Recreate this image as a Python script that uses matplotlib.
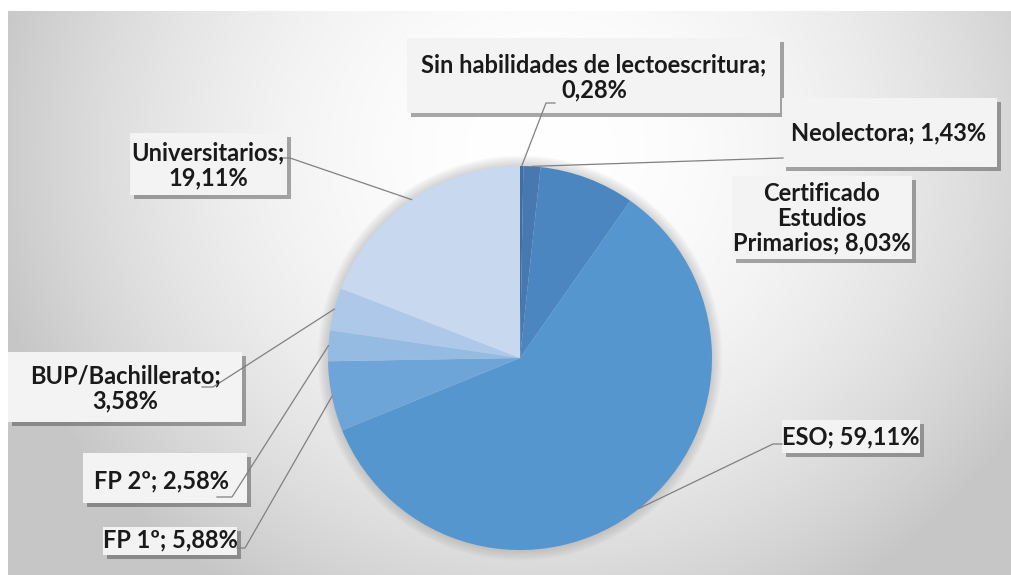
"""
Pie chart: nivel de estudios (recreated from an Excel-style figure).
"""

import numpy as np
import matplotlib
matplotlib.use("Agg")
import matplotlib.pyplot as plt  # noqa: E402
import matplotlib.patheffects as pe  # noqa: E402
from matplotlib.patches import Rectangle, Circle  # noqa: E402

# ── data ──────────────────────────────────────────────────────────────────────
categories = [
    "Sin habilidades de lectoescritura",
    "Neolectora",
    "Certificado\nEstudios\nPrimarios",
    "ESO",
    "FP 1º",
    "FP 2º",
    "BUP/Bachillerato",
    "Universitarios",
]
shares = [0.28, 1.43, 8.03, 59.11, 5.88, 2.58, 3.58, 19.11]
label_sep = ["\n", " ", " ", " ", " ", " ", "\n", "\n"]

colors = ["#3d6ea4", "#4779b0", "#4b86c0", "#5596cf",
          "#6ea5d8", "#95bbe2", "#adc8e8", "#c8d9ef"]

# ── layout (pixel space of the 1012x575 picture) ──────────────────────────────
W, H = 1012, 575
CX, CY, R = 520, 358, 192

# label boxes: left, top, right, bottom
boxes = [
    (407, 38, 780, 113),
    (782, 98, 997, 167),
    (732, 176, 912, 259),
    (782, 420, 920, 453),
    (103, 527, 237, 555),
    (83, 453, 247, 503),
    (8, 352, 242, 422),
    (130, 133, 287, 195),
]
text_pos = [
    (594, 77), (889, 133), (822, 218), (851, 437),
    (170, 540), (161, 481), (125, 388), (208, 165),
]
# leader knees (None = no leader)
knees = [
    [(546, 103), (555, 103)],
    [(783, 158)],
    None,
    [(773, 444), (782, 444)],
    [(245, 548), (237, 548)],
    [(232, 497), (217, 497)],
    [(213, 387), (202, 387)],
    [(290, 158), (282, 158)],
]


def px(x, y):
    """Pixel (top-left origin) -> data coords (pie radius = 1)."""
    return (x - CX) / R, (CY - y) / R


# ── figure ────────────────────────────────────────────────────────────────────
plt.rcParams["font.family"] = ["Lato", "DejaVu Sans"]
fig = plt.figure(figsize=(W / 100, H / 100), dpi=100)
fig.patch.set_facecolor("white")
ax = fig.add_axes([0, 0, 1, 1])

# background: soft radial gradient
xs = np.arange(8, W)
ys = np.arange(11, H)
gx, gy = np.meshgrid(xs, ys)
d = np.sqrt(((gx - 540) / 560.0) ** 2 + ((gy - 150) / 520.0) ** 2)
val = 1 - 0.22 * np.clip(d, 0, 1) ** 2
x0, y0 = px(8, 11)
x1, y1 = px(W, H)
ax.imshow(np.dstack([val] * 3), extent=[x0, x1, y1, y0], origin="upper",
          aspect="auto", zorder=0, interpolation="bilinear")

# faint glow around the pie
for i in range(10):
    ax.add_patch(Circle((0, 0), 1 + 0.006 * i, color="#808080",
                        alpha=0.035, lw=0, zorder=1))

wedges, _ = ax.pie(shares, colors=colors, startangle=90, counterclock=False,
                   radius=1, center=(0, 0), wedgeprops=dict(linewidth=0))
for w in wedges:
    w.set_zorder(2)

ax.set_xlim(-CX / R, (W - CX) / R)
ax.set_ylim((CY - H) / R, CY / R)
ax.set_aspect("auto")
ax.axis("off")

# ── labels ────────────────────────────────────────────────────────────────────
for i, (name, val_) in enumerate(zip(categories, shares)):
    l, t, r, b = boxes[i]
    bx, by = px(l, b)
    bw, bh = (r - l) / R, (b - t) / R
    rect = Rectangle((bx, by), bw, bh, facecolor="#f3f3f3", edgecolor="none",
                     zorder=3)
    rect.set_path_effects([
        pe.SimplePatchShadow(offset=(3, -3), shadow_rgbFace="#404040",
                             alpha=0.45),
        pe.Normal(),
    ])
    ax.add_patch(rect)

    pct = f"{val_:.2f}".replace(".", ",") + "%"
    label = f"{name};{label_sep[i]}{pct}"
    tx, ty = px(*text_pos[i])
    ax.text(tx, ty, label, ha="center", va="center", fontsize=17,
            fontweight="bold", color="#1a1a1a", linespacing=1.1, zorder=5)

    if knees[i] is None:
        continue
    mid = np.deg2rad((wedges[i].theta1 + wedges[i].theta2) / 2)
    pts = [(np.cos(mid), np.sin(mid))] + [px(*k) for k in knees[i]]
    lx, ly = zip(*pts)
    ax.plot(lx, ly, color="#808080", lw=0.9, zorder=4)

fig.savefig("out.png", dpi=100)
